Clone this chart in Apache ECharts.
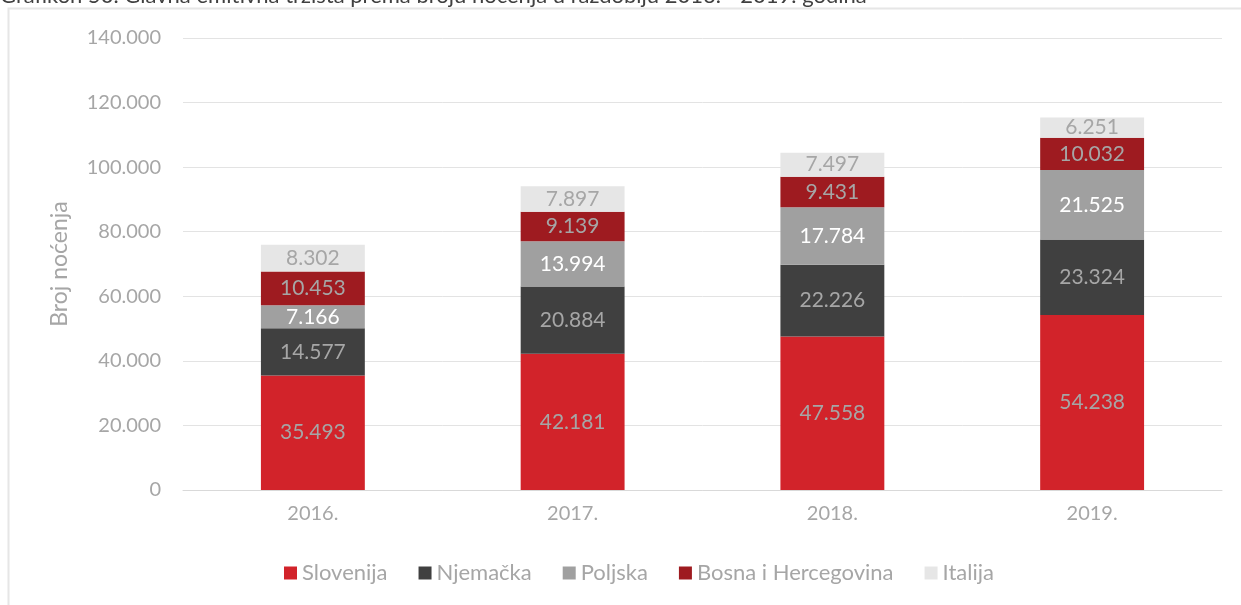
<!DOCTYPE html>
<html>
<head>
<meta charset="utf-8">
<script src="https://cdn.jsdelivr.net/npm/echarts@6/dist/echarts.min.js"></script>
<style>
  html, body { margin: 0; padding: 0; background: #fff; }
  #chart { width: 1241px; height: 605px; }
</style>
</head>
<body>
<div id="chart"></div>
<script>
// Noćenja po emitivnim tržištima, 2016. - 2019.
const years = ['2016.', '2017.', '2018.', '2019.'];
const slovenija = [35493, 42181, 47558, 54238];
const njemacka = [14577, 20884, 22226, 23324];
const poljska = [7166, 13994, 17784, 21525];
const bosna = [10453, 9139, 9431, 10032];
const italija = [8302, 7897, 7497, 6251];
const yTicks = { min: 0, max: 140000, interval: 20000 };

const FONT = 'Lato, "Open Sans", sans-serif';
const GREY_TEXT = '#A6A6A6';

function fmt(v) {
  return String(v).replace(/\B(?=(\d{3})+(?!\d))/g, '.');
}

function seriesOf(name, data, color, labelColor) {
  return {
    name: name,
    type: 'bar',
    stack: 'total',
    data: data,
    barWidth: '40%',
    itemStyle: { color: color },
    label: {
      show: true,
      position: 'inside',
      color: labelColor,
      fontFamily: FONT,
      fontSize: 21,
      formatter: p => fmt(p.value)
    },
    emphasis: { disabled: true }
  };
}

const chart = echarts.init(document.getElementById('chart'), null, { renderer: 'canvas' });
chart.setOption({
  animation: false,
  backgroundColor: '#fff',
  graphic: [
    {
      type: 'rect',
      shape: { x: 8.5, y: 8.5, width: 1300, height: 700 },
      style: { fill: null, stroke: '#E6E6E6', lineWidth: 2 },
      silent: true
    },
    {
      type: 'text',
      left: 0,
      top: -15,
      style: {
        text: 'Grafikon 50. Glavna emitivna tržišta prema broju noćenja u razdoblju 2016. - 2019. godina',
        fill: '#404040',
        font: '22px ' + FONT
      },
      silent: true
    }
  ],
  grid: { left: 183, right: 19, top: 38, bottom: 115, containLabel: false },
  legend: {
    bottom: 16,
    left: 279,
    itemWidth: 13,
    itemHeight: 13,
    itemGap: 31,
    icon: 'rect',
    textStyle: { color: GREY_TEXT, fontFamily: FONT, fontSize: 22 },
    data: ['Slovenija', 'Njemačka', 'Poljska', 'Bosna i Hercegovina', 'Italija']
  },
  xAxis: {
    type: 'category',
    data: years,
    axisLine: { lineStyle: { color: '#D9D9D9', width: 1 } },
    axisTick: { show: false },
    axisLabel: { color: GREY_TEXT, fontFamily: FONT, fontSize: 20, margin: 14 }
  },
  yAxis: {
    type: 'value',
    min: yTicks.min,
    max: yTicks.max,
    interval: yTicks.interval,
    name: 'Broj noćenja',
    nameLocation: 'middle',
    nameGap: 112,
    nameTextStyle: { color: GREY_TEXT, fontFamily: FONT, fontSize: 23 },
    axisLine: { show: false },
    axisTick: { show: false },
    splitLine: { lineStyle: { color: '#E3E3E3', width: 1 } },
    axisLabel: {
      color: GREY_TEXT,
      fontFamily: FONT,
      fontSize: 20,
      margin: 22,
      formatter: v => fmt(v)
    }
  },
  series: [
    seriesOf('Slovenija', slovenija, '#D2232A', GREY_TEXT),
    seriesOf('Njemačka', njemacka, '#404040', GREY_TEXT),
    seriesOf('Poljska', poljska, '#A0A0A0', '#FFFFFF'),
    seriesOf('Bosna i Hercegovina', bosna, '#9E1B20', GREY_TEXT),
    seriesOf('Italija', italija, '#E6E6E6', GREY_TEXT)
  ]
});
</script>
</body>
</html>
